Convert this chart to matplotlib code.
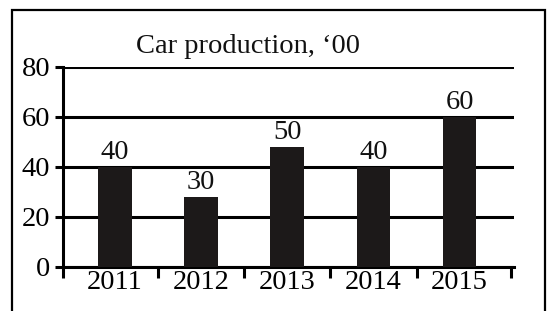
import numpy as np
import matplotlib
matplotlib.use("Agg")
import matplotlib.pyplot as plt
from matplotlib.patches import Rectangle

# data
years = ["2011", "2012", "2013", "2014", "2015"]
bar_heights = [40, 28, 48, 40, 60]     # drawn bar tops
bar_labels = ["40", "30", "50", "40", "60"]  # printed values
y_ticks = [0, 20, 40, 60, 80]

plt.rcParams['font.family'] = ['Liberation Serif', 'DejaVu Serif']
bar_color = '#1c1919'
fs = 20.5

fig = plt.figure(figsize=(5.48, 3.11), dpi=100)
ax = fig.add_axes([63/548, 1-267/311, (514-63)/548, 200/311])

x = np.arange(len(years))
ax.bar(x, bar_heights, width=0.39, color=bar_color, zorder=3)

for xi, h, lab in zip(x, bar_heights, bar_labels):
    ax.annotate(lab, (xi, h), xytext=(0, 6), textcoords='offset points',
                ha='center', va='baseline', fontsize=fs, color='#111111')

ax.set_xlim(-0.6, 4.63)
ax.set_ylim(0, 80)

# horizontal rules
ax.set_yticks(y_ticks)
ax.set_yticklabels([str(v) for v in y_ticks])
ax.yaxis.grid(True, color='black', lw=2.2)
ax.set_axisbelow(True)

# ticks between categories, labels at centres
bounds = [-0.6] + list(x[:-1] + 0.5) + [4.6]
ax.set_xticks(bounds)
ax.set_xticklabels([])
ax.set_xticks(x, minor=True)
ax.set_xticklabels(years, minor=True)

ax.tick_params(axis='x', which='major', direction='out', length=8, width=2.2)
ax.tick_params(axis='x', which='minor', length=0, pad=2, labelsize=fs)
ax.tick_params(axis='y', direction='out', length=6, width=2.2, pad=3, labelsize=fs)

for s in ['top', 'right']:
    ax.spines[s].set_visible(False)
for s in ['left', 'bottom']:
    ax.spines[s].set_linewidth(2.2)

fig.text(248/548, 1-53/311, "Car production, \u201800", ha='center', va='baseline',
         fontsize=fs, color='#111111')

# outer frame (bottom edge falls outside the picture)
fig.patches.append(Rectangle((12/548, -0.1), (545-12)/548, 1.1-10/311,
                             transform=fig.transFigure, fill=False, lw=1.6,
                             edgecolor='black'))

fig.savefig("out.png", dpi=100)
